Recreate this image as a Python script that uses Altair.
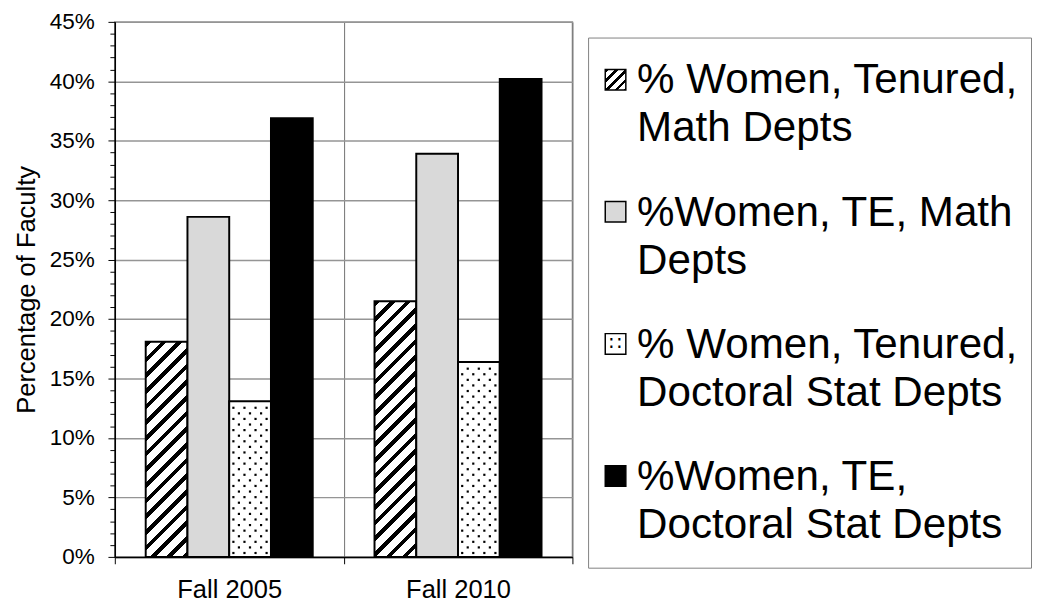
import altair as alt

# ---------------- data ----------------
categories = ["Fall 2005", "Fall 2010"]
series = [
    "% Women, Tenured, Math Depts",
    "%Women, TE, Math Depts",
    "% Women, Tenured, Doctoral Stat Depts",
    "%Women, TE, Doctoral Stat Depts",
]
legend_labels = [
    "% Women, Tenured,\nMath Depts",
    "%Women, TE, Math\nDepts",
    "% Women, Tenured,\nDoctoral Stat Depts",
    "%Women, TE,\nDoctoral Stat Depts",
]
values_2005 = [0.181, 0.286, 0.131, 0.369]
values_2010 = [0.215, 0.339, 0.164, 0.402]
patterns = ["hatch", "grey", "dots", "black"]
y_tick_values = [round(i * 0.01, 2) for i in range(46)]

# ---------------- layout / style constants ----------------
W_PLOT, H_PLOT = 467, 546
Y_MAX = 0.45
OUTER = 0.74
FONT = "Liberation Sans"
BAR_W = W_PLOT / len(categories) / (len(series) + 2 * OUTER)
GRID = "#959595"


def hatch(w, h, period, frac):
    """Diagonal black/white stripes as a linear gradient fitted to a w x h box."""
    total = w + h
    a = w * total / (w * w + h * h)
    stops = []
    k = 0
    while k * period < total:
        s = k * period
        e = min(s + frac * period, total)
        n = min(s + period, total)
        stops.append({"offset": round(s / total, 5), "color": "#000000"})
        stops.append({"offset": round(e / total, 5), "color": "#000000"})
        if e < total:
            stops.append({"offset": round(e / total, 5), "color": "#ffffff"})
            stops.append({"offset": round(n / total, 5), "color": "#ffffff"})
        k += 1
    return {"gradient": "linear", "x1": 0, "y1": 0,
            "x2": round(a, 5), "y2": round(a * h / w, 5), "stops": stops}


solid = {"grey": "#d9d9d9", "dots": "#ffffff", "black": "#000000"}

bar_records = []
dot_records = []
col_step = 11.3 / BAR_W
row_step = 5.7 / H_PLOT * Y_MAX
for cat, vals in zip(categories, [values_2005, values_2010]):
    for k, (s, v) in enumerate(zip(series, vals)):
        h = v / Y_MAX * H_PLOT
        if patterns[k] == "hatch":
            fill = hatch(BAR_W, h, 16.0, 0.36)
        else:
            fill = solid[patterns[k]]
        bar_records.append({"cat": cat, "series": s, "value": v, "fill": fill})
        if patterns[k] == "dots":
            r = 0
            yv = row_step * 0.7
            while yv < v - row_step * 0.4:
                xo = k + 0.1 + (r % 2) * col_step / 2
                while xo < k + 0.95:
                    dot_records.append({"cat": cat, "pos": xo, "value": yv})
                    xo += col_step
                r += 1
                yv += row_step

major = "round(datum.value*100) % 5 === 0"

x_axis = alt.Axis(title=None, tickBand="extent", labelAngle=0,
                  labelFontSize=26, labelColor="black", labelPadding=13,
                  tickSize=7, tickColor="black", tickWidth=1,
                  domainColor="black", domainWidth=1.5,
                  grid=True, gridColor="#707070", gridWidth=1)
y_axis = alt.Axis(title="Percentage of Faculty", values=y_tick_values,
                  format=".0%", labelExpr=f"{major} ? datum.label : ''",
                  labelOverlap=False, labelFontSize=23, labelColor="black",
                  labelPadding=14,
                  tickSize={"condition": {"test": major, "value": 7}, "value": 5},
                  tickColor="black", tickWidth=1,
                  gridOpacity={"condition": {"test": major, "value": 1}, "value": 0},
                  gridColor=GRID, gridWidth=1.5,
                  domainColor="black", domainWidth=1.5,
                  titleFontSize=26, titleFontWeight="normal",
                  titleColor="black", titlePadding=10)
y_scale = alt.Scale(domain=[0, Y_MAX], nice=False, zero=True)

bars = alt.Chart(alt.Data(values=bar_records)).mark_bar(
    stroke="black", strokeWidth=2
).encode(
    x=alt.X("cat:N", sort=categories,
            scale=alt.Scale(paddingInner=0, paddingOuter=0), axis=x_axis),
    xOffset=alt.XOffset("series:N", sort=series,
                        scale=alt.Scale(paddingInner=0, paddingOuter=OUTER)),
    y=alt.Y("value:Q", scale=y_scale, axis=y_axis),
    fill=alt.Fill("fill:N", scale=None),
)

dots = alt.Chart(alt.Data(values=dot_records)).mark_square(
    size=5, color="black", opacity=1
).encode(
    x=alt.X("cat:N", sort=categories, bandPosition=0, axis=x_axis),
    xOffset=alt.XOffset("pos:Q", scale=alt.Scale(domain=[-OUTER, len(series) + OUTER],
                                                  nice=False, zero=False)),
    y=alt.Y("value:Q", scale=y_scale, axis=y_axis),
)

left = alt.layer(bars, dots).resolve_scale(xOffset="independent").properties(
    width=W_PLOT, height=H_PLOT,
    view=alt.ViewBackground(stroke=GRID, strokeWidth=1.5),
)

# ---------------- legend panel ----------------
SYM = 21
leg_fill = {"hatch": hatch(SYM, SYM, 10.0, 0.4), **solid}
leg_records = [
    {"idx": i, "label": legend_labels[i], "fill": leg_fill[patterns[i]],
     "glyph": "\u2237" if patterns[i] == "dots" else ""}
    for i in range(len(series))
]
leg_y = alt.Y("idx:Q", axis=None,
              scale=alt.Scale(domain=[-0.319, 3.694], nice=False, zero=False, reverse=True))

sym = alt.Chart(alt.Data(values=leg_records)).mark_square(
    size=SYM * SYM, stroke="black", strokeWidth=1.5, opacity=1, filled=True
).encode(x=alt.value(28), y=leg_y, fill=alt.Fill("fill:N", scale=None))

glyph = alt.Chart(alt.Data(values=leg_records)).mark_text(
    fontSize=20, font="DejaVu Sans", color="black", baseline="middle", align="center"
).encode(x=alt.value(28), y=leg_y, text="glyph:N")

txt = alt.Chart(alt.Data(values=leg_records)).mark_text(
    align="left", baseline="alphabetic", fontSize=43, lineHeight=49,
    lineBreak="\n", dy=14, color="black"
).encode(x=alt.value(50), y=leg_y, text="label:N")

legend = alt.layer(sym, glyph, txt).properties(
    width=452, height=541,
    view=alt.ViewBackground(stroke="#7f7f7f", strokeWidth=1),
)

spacer = alt.Chart(alt.Data(values=[{"t": ""}])).mark_text().encode(
    text="t:N", x=alt.value(0), y=alt.value(0)
).properties(width=452, height=14, view=alt.ViewBackground(stroke="transparent"))

right = alt.vconcat(spacer, legend, spacing=0)

chart = alt.hconcat(left, right, spacing=13).properties(
    padding={"left": 5, "top": -4, "right": 0, "bottom": 0}
).configure(font=FONT)

chart.save("out.html", embed_options={"renderer": "svg", "actions": False})
